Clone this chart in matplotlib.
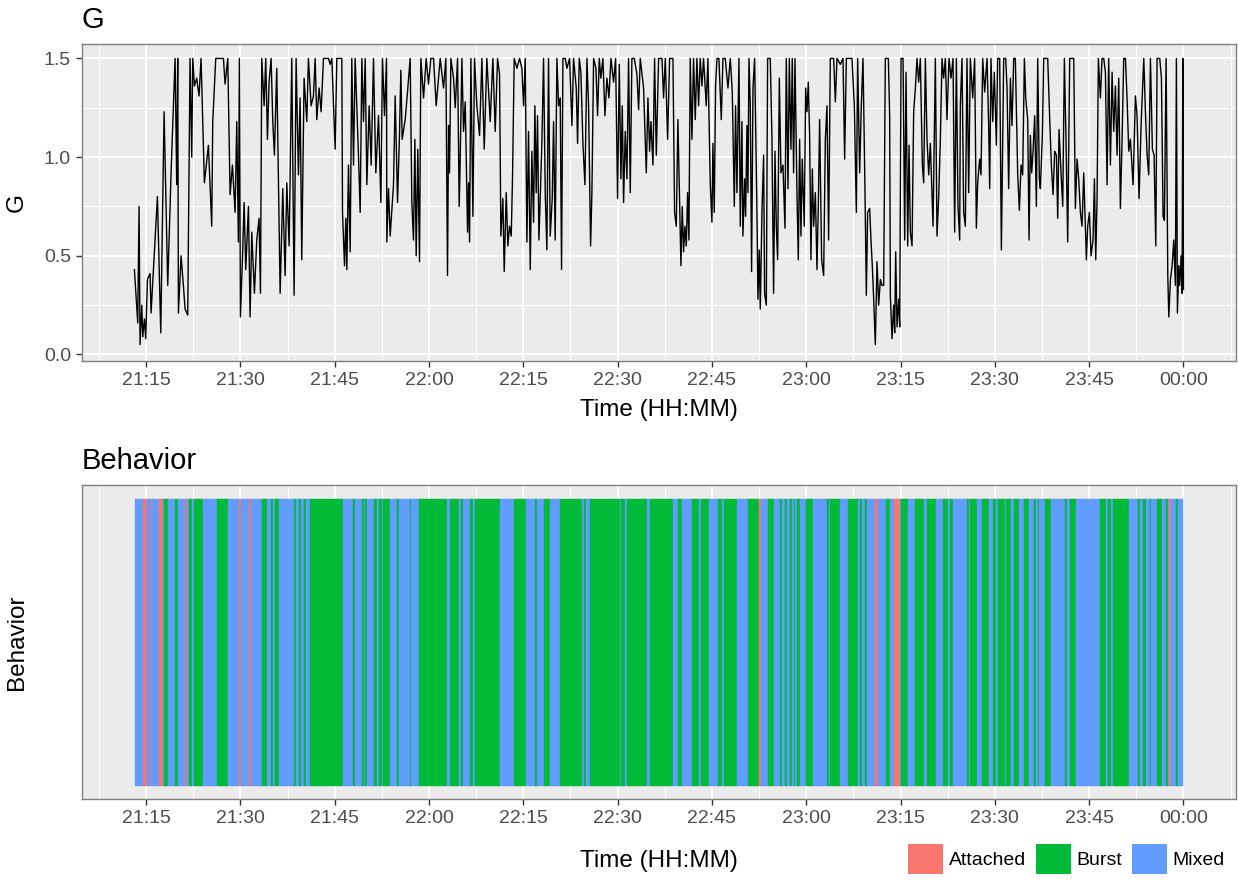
import matplotlib.pyplot as plt
from matplotlib.patches import Patch

plt.rcParams['font.family'] = ['Liberation Sans', 'DejaVu Sans']

# G over time: minutes after 21:00
g_minutes = [
    13.14, 13.67, 13.88, 14.04, 14.31, 14.47, 14.73, 14.94, 15.21, 15.63,
    15.79, 16.80, 17.33, 17.86, 18.44, 18.97, 19.61, 19.87, 20.03, 20.14,
    20.56, 20.93, 21.20, 21.62, 21.99, 22.26, 22.42, 22.68, 23.05, 23.42,
    23.74, 24.27, 24.91, 25.44, 25.60, 26.08, 27.30, 27.56, 27.99, 28.36,
    28.73, 29.15, 29.42, 29.68, 29.84, 30.00, 30.32, 30.59, 30.85, 31.28,
    31.54, 31.81, 32.23, 32.60, 32.97, 33.19, 33.40, 33.77, 34.03, 34.30,
    34.56, 34.88, 35.15, 35.41, 35.78, 36.32, 36.74, 37.11, 37.38, 37.75,
    38.17, 38.54, 38.86, 39.23, 39.50, 39.76, 40.13, 40.56, 40.82, 41.25,
    41.62, 41.89, 42.15, 42.52, 42.84, 43.21, 44.01, 44.27, 44.54, 45.07,
    45.33, 46.13, 46.24, 46.56, 46.77, 46.93, 47.19, 47.46, 47.72, 47.99,
    48.25, 48.78, 49.05, 49.32, 49.58, 49.85, 50.11, 50.48, 50.80, 51.17,
    51.54, 51.97, 52.34, 52.60, 52.92, 53.24, 53.29, 53.56, 53.82, 54.35,
    54.62, 54.99, 55.30, 55.52, 55.73, 56.21, 56.58, 57.00, 57.27, 57.53,
    57.75, 57.96, 58.22, 58.49, 58.70, 59.13, 59.55, 59.92, 60.29, 60.72,
    61.14, 61.78, 62.31, 62.68, 62.94, 63.11, 63.26, 63.48, 63.90, 64.17,
    64.54, 64.80, 64.96, 65.23, 65.49, 65.76, 66.13, 66.29, 66.45, 66.66,
    66.98, 67.24, 67.61, 68.04, 68.41, 68.78, 69.20, 69.73, 70.16, 70.53,
    70.90, 71.22, 71.43, 71.75, 71.96, 72.28, 72.54, 72.81, 73.08, 73.29,
    73.55, 73.98, 74.40, 74.77, 75.04, 75.30, 75.57, 75.83, 76.10, 76.36,
    76.63, 76.84, 77.05, 77.26, 77.48, 77.69, 77.95, 78.22, 78.49, 78.75,
    79.01, 79.28, 79.60, 79.81, 80.07, 80.34, 80.61, 80.87, 81.08, 81.30,
    81.67, 81.93, 82.36, 82.73, 82.99, 83.42, 83.63, 83.90, 84.16, 84.48,
    84.80, 85.12, 85.38, 85.70, 85.91, 86.18, 86.55, 86.81, 87.08, 87.34,
    87.66, 87.98, 88.30, 88.62, 88.94, 89.36, 89.68, 89.99, 90.26, 90.52,
    90.74, 90.95, 91.21, 91.48, 91.74, 92.01, 92.27, 92.65, 93.07, 93.34,
    93.60, 94.13, 94.56, 94.82, 95.09, 95.30, 95.62, 95.88, 96.15, 96.52,
    97.05, 97.31, 97.58, 97.95, 98.27, 98.80, 99.06, 99.33, 99.59, 100.07,
    100.28, 100.49, 100.70, 100.92, 101.13, 101.34, 101.55, 101.82, 102.08, 102.35,
    102.61, 102.88, 103.14, 103.41, 103.67, 104.10, 104.36, 104.74, 105.00, 105.16,
    105.37, 105.58, 105.80, 106.11, 106.49, 106.75, 107.12, 107.55, 107.92, 108.24,
    108.56, 108.76, 108.98, 109.30, 109.51, 109.77, 109.93, 110.20, 110.36, 110.57,
    110.73, 110.89, 111.10, 111.31, 111.53, 111.79, 112.16, 112.32, 112.53, 112.69,
    112.96, 113.22, 113.38, 113.65, 113.86, 114.28, 114.55, 114.81, 115.03, 115.24,
    115.45, 115.72, 115.98, 116.30, 116.62, 116.83, 117.10, 117.31, 117.57, 117.78,
    117.99, 118.21, 118.53, 118.74, 118.95, 119.16, 119.37, 119.69, 119.91, 120.12,
    120.33, 120.54, 120.75, 120.97, 121.18, 121.45, 121.71, 121.92, 122.13, 122.45,
    122.77, 123.04, 123.30, 123.56, 123.83, 124.36, 124.63, 124.89, 125.42, 125.85,
    126.11, 126.38, 126.75, 127.28, 127.65, 127.97, 128.18, 128.50, 128.76, 129.03,
    129.35, 129.56, 129.77, 130.09, 130.30, 130.51, 130.73, 130.99, 131.26, 131.52,
    131.79, 132.05, 132.32, 132.58, 133.06, 133.27, 133.38, 133.64, 133.91, 134.07,
    134.23, 134.44, 134.71, 134.87, 135.08, 135.40, 135.66, 135.87, 136.14, 136.35,
    136.56, 136.83, 137.09, 137.36, 137.62, 137.89, 138.15, 138.47, 138.68, 138.95,
    139.21, 139.48, 139.74, 140.17, 140.54, 140.80, 141.07, 141.33, 141.60, 141.86,
    142.13, 142.39, 142.71, 143.03, 143.35, 143.61, 143.88, 144.14, 144.41, 144.51,
    144.78, 145.04, 145.31, 145.57, 145.84, 146.10, 146.48, 146.79, 147.06, 147.27,
    147.59, 147.80, 148.07, 148.38, 148.76, 149.02, 149.18, 149.39, 149.66, 149.92,
    150.24, 150.45, 150.77, 151.04, 151.25, 151.41, 151.73, 151.94, 152.20, 152.47,
    152.73, 153.00, 153.26, 153.64, 153.90, 154.17, 154.43, 154.70, 154.91, 155.23,
    155.44, 155.65, 155.86, 156.08, 156.34, 156.61, 156.82, 157.08, 157.24, 157.56,
    157.77, 158.41, 158.73, 158.99, 159.26, 159.52, 159.79, 160.00, 160.21, 160.53,
    160.80, 161.06, 161.33, 161.59, 161.91, 162.28, 162.55, 162.81, 163.08, 163.34,
    163.61, 163.87, 164.14, 164.40, 164.56, 164.77, 165.04, 165.30, 165.62, 165.84,
    166.05, 166.26, 166.47, 166.79, 167.05, 167.32, 167.59, 167.85, 168.11, 168.38,
    168.65, 168.91, 169.18, 169.44, 169.71, 169.97, 170.24, 170.50, 170.77, 171.03,
    171.30, 171.56, 171.99, 172.36, 172.62, 172.94, 173.26, 173.69, 173.95, 174.22,
    174.48, 174.75, 175.06, 175.33, 175.60, 175.81, 176.23, 176.50, 176.76, 176.97,
    177.24, 177.51, 177.67, 177.93, 178.20, 178.46, 178.72, 178.88, 179.04, 179.26,
    179.41, 179.63, 179.79, 179.90, 180.00,
]
g_values = [
    0.43, 0.16, 0.75, 0.05, 0.25, 0.09, 0.18, 0.08, 0.38, 0.41,
    0.21, 0.80, 0.11, 1.23, 0.35, 0.92, 1.50, 0.86, 1.50, 0.21,
    0.50, 0.35, 0.23, 0.20, 1.50, 1.00, 1.50, 1.36, 1.40, 1.31,
    1.50, 0.87, 1.06, 0.65, 1.18, 1.50, 1.50, 1.37, 1.50, 0.81,
    0.96, 0.72, 1.18, 0.57, 1.50, 0.19, 0.48, 0.77, 0.43, 0.75,
    0.19, 0.62, 0.31, 0.58, 0.69, 0.31, 1.50, 1.26, 1.50, 1.09,
    1.38, 1.50, 1.18, 1.01, 1.45, 0.31, 0.84, 0.40, 0.87, 0.55,
    1.50, 0.30, 1.50, 0.91, 1.30, 0.48, 1.40, 1.18, 1.50, 1.26,
    1.31, 1.50, 1.19, 1.35, 1.23, 1.50, 1.50, 1.47, 1.50, 1.04,
    1.50, 1.50, 0.72, 0.45, 0.69, 0.43, 0.96, 0.52, 1.50, 0.96,
    1.50, 1.01, 0.72, 1.50, 1.18, 1.50, 0.86, 1.26, 0.96, 1.50,
    0.92, 1.21, 0.77, 1.50, 1.21, 1.50, 0.57, 0.84, 0.60, 0.86,
    1.31, 0.77, 1.11, 1.44, 1.09, 1.19, 1.33, 1.50, 0.77, 0.58,
    1.09, 0.50, 1.04, 0.47, 1.50, 1.30, 1.50, 1.37, 1.50, 1.50,
    1.26, 1.50, 1.35, 1.50, 0.40, 1.16, 0.92, 1.50, 1.40, 1.25,
    1.50, 0.75, 0.99, 1.50, 1.13, 1.28, 0.62, 0.87, 0.57, 1.50,
    0.70, 1.50, 1.26, 1.11, 1.50, 1.04, 1.50, 1.18, 1.50, 1.13,
    1.50, 1.42, 0.60, 0.79, 0.42, 0.82, 0.55, 0.65, 0.60, 0.91,
    1.50, 1.45, 1.50, 1.45, 1.26, 1.50, 0.57, 1.13, 0.43, 1.03,
    0.67, 1.26, 0.82, 1.21, 0.58, 0.79, 1.07, 1.50, 0.81, 0.53,
    1.50, 0.60, 0.79, 1.18, 0.58, 1.50, 1.26, 1.30, 0.43, 1.50,
    1.50, 1.45, 1.50, 1.16, 1.50, 1.35, 1.07, 1.50, 1.43, 1.07,
    0.86, 1.50, 1.26, 0.55, 0.82, 1.50, 1.45, 1.21, 1.50, 1.40,
    1.50, 1.21, 1.40, 1.30, 1.50, 1.38, 1.50, 0.79, 1.47, 0.89,
    1.26, 0.77, 1.13, 0.89, 1.50, 0.82, 1.50, 1.50, 1.42, 1.24,
    1.50, 1.35, 0.92, 1.30, 1.03, 1.18, 0.96, 1.50, 1.01, 1.50,
    1.50, 1.30, 1.50, 1.09, 1.50, 1.50, 0.72, 0.65, 1.19, 0.45,
    0.75, 0.52, 0.65, 0.55, 0.82, 0.58, 1.50, 1.09, 1.50, 1.19,
    1.50, 1.26, 1.50, 1.36, 1.50, 1.26, 1.50, 0.86, 0.67, 1.07,
    0.72, 1.36, 1.50, 1.50, 1.19, 1.50, 1.50, 1.35, 1.50, 1.33,
    0.75, 1.26, 0.82, 1.50, 0.65, 1.18, 0.60, 0.89, 0.70, 1.16,
    0.82, 1.50, 1.26, 0.42, 1.35, 1.50, 0.72, 0.28, 0.53, 0.23,
    0.72, 1.01, 0.31, 0.25, 1.50, 1.50, 1.09, 0.31, 1.03, 0.65,
    0.48, 1.40, 0.92, 0.96, 0.64, 1.50, 0.84, 1.50, 1.04, 1.50,
    0.92, 1.50, 0.81, 0.48, 1.09, 0.60, 0.99, 0.65, 1.35, 1.23,
    1.38, 1.11, 0.48, 0.94, 0.65, 0.82, 0.43, 0.75, 1.19, 0.48,
    0.40, 1.09, 1.26, 0.58, 1.50, 1.50, 1.28, 1.50, 1.47, 1.50,
    0.99, 1.50, 1.50, 1.50, 1.26, 0.72, 1.50, 0.92, 1.26, 1.50,
    0.82, 0.30, 0.72, 0.74, 0.58, 0.45, 0.28, 0.05, 0.47, 0.25,
    0.38, 0.35, 0.35, 1.50, 1.50, 1.21, 0.30, 0.08, 0.25, 0.11,
    0.52, 0.14, 0.28, 0.14, 1.50, 1.50, 0.58, 1.43, 0.55, 1.06,
    0.62, 0.55, 1.23, 1.35, 1.50, 1.38, 1.50, 0.96, 0.87, 1.50,
    1.09, 0.91, 1.07, 0.65, 1.50, 0.60, 0.80, 1.09, 1.50, 1.40,
    1.50, 1.19, 1.50, 1.40, 1.50, 0.62, 1.50, 0.75, 0.58, 1.26,
    1.50, 0.72, 0.65, 1.50, 0.82, 1.50, 1.30, 1.50, 0.64, 0.87,
    0.99, 0.91, 1.50, 1.33, 1.50, 1.16, 0.84, 1.50, 1.18, 1.43,
    1.06, 1.50, 1.50, 0.53, 1.07, 1.50, 1.50, 1.35, 0.84, 1.40,
    1.16, 1.50, 1.50, 0.91, 0.73, 0.96, 0.91, 1.50, 1.30, 1.19,
    0.58, 1.11, 0.92, 1.03, 1.21, 0.75, 1.50, 0.89, 0.84, 1.11,
    1.50, 1.50, 1.19, 0.96, 0.81, 1.03, 1.01, 0.69, 1.14, 0.92,
    0.75, 1.50, 1.07, 0.57, 1.50, 1.50, 1.50, 0.74, 0.99, 0.89,
    0.72, 0.65, 0.92, 0.64, 0.48, 0.65, 0.72, 0.50, 0.58, 0.89,
    0.48, 0.79, 1.50, 1.30, 1.50, 1.50, 1.43, 0.86, 1.50, 0.96,
    1.43, 1.13, 1.36, 1.01, 1.40, 0.74, 1.09, 1.50, 1.50, 1.30,
    1.03, 1.09, 0.86, 1.31, 1.21, 0.79, 1.16, 1.50, 1.23, 1.01,
    0.91, 1.50, 1.04, 1.01, 0.55, 1.50, 1.50, 1.40, 0.70, 0.68,
    1.50, 0.40, 0.19, 0.38, 0.45, 0.58, 0.35, 1.50, 0.21, 0.45,
    0.35, 0.50, 0.31, 1.50, 0.33,
]

# behaviour segments: start minute after 21:00 and class (A/B/M)
beh_start = [
    13.25, 14.47, 15.21, 15.80, 16.01, 17.12, 17.76, 17.92, 18.55, 19.61,
    20.14, 21.05, 21.21, 21.47, 21.68, 21.84, 22.37, 22.64, 24.02, 26.25,
    28.10, 29.80, 30.06, 31.44, 31.71, 33.40, 34.20, 34.84, 35.26, 35.58,
    36.11, 38.60, 38.92, 39.34, 39.66, 40.19, 40.51, 41.09, 46.29, 47.88,
    48.25, 49.31, 49.63, 49.84, 50.16, 51.22, 51.75, 51.97, 52.60, 52.71,
    53.72, 54.88, 55.15, 56.90, 57.11, 58.44, 62.84, 63.26, 64.75, 65.07,
    65.33, 66.44, 66.98, 67.24, 71.32, 73.45, 75.46, 76.89, 77.16, 78.22,
    79.28, 80.87, 84.32, 84.69, 84.96, 85.64, 90.31, 90.52, 91.21, 91.48,
    94.66, 95.19, 98.85, 99.60, 100.23, 101.82, 102.99, 103.25, 104.58, 105.96,
    106.59, 106.86, 108.98, 110.68, 112.43, 112.80, 113.86, 114.81, 115.88, 116.14,
    116.67, 116.99, 117.47, 117.73, 118.00, 118.26, 118.53, 118.95, 119.96, 121.07,
    123.30, 123.56, 123.83, 125.42, 126.59, 128.23, 128.60, 128.87, 129.40, 129.66,
    130.99, 131.36, 132.69, 133.38, 134.01, 134.86, 135.13, 136.14, 137.36, 138.68,
    139.21, 140.70, 141.76, 142.50, 142.82, 143.35, 145.58, 145.84, 146.11, 147.17,
    147.96, 149.13, 149.66, 150.24, 150.51, 151.57, 151.84, 152.63, 153.00, 153.80,
    154.59, 155.50, 156.29, 156.56, 156.82, 157.09, 157.93, 159.00, 161.22, 161.49,
    162.02, 162.92, 166.68, 167.75, 168.01, 168.54, 168.80, 171.40, 172.78, 173.04,
    173.58, 174.11, 174.64, 174.90, 175.80, 176.60, 177.23, 177.50, 177.66, 178.03,
    178.83, 179.10,
]
beh_codes = list(
    "MAMAMAMBMB" "MAMAMBMBMB" "MAMAMBMBMB" "MBMBMBMBMB" "MBMBMBMBMB"
    "MBMBMBMBMB" "MBMBMBMBMB" "MBMBMBMBMB" "MBMBMBMBMB" "MBMBAMBMBM"
    "BMBMBMBMBM" "BMBMBMBMBM" "AMBMAMBMBM" "BMBMBMBMBM" "BMBMBMBMBM"
    "BMBMBMBMBM" "BMBMBMBMBM" "BMBMBMBMAM" "BM"
)
beh_end = 180.0

behaviors = ['Attached', 'Burst', 'Mixed']
beh_colors = ['#F8766D', '#00BA38', '#619CFF']
code_names = {'A': 'Attached', 'B': 'Burst', 'M': 'Mixed'}

tick_minutes = [15, 30, 45, 60, 75, 90, 105, 120, 135, 150, 165, 180]
tick_labels = ['21:15', '21:30', '21:45', '22:00', '22:15', '22:30',
               '22:45', '23:00', '23:15', '23:30', '23:45', '00:00']
g_ticks = [0.0, 0.5, 1.0, 1.5]

assert len(g_minutes) == len(g_values)
assert len(beh_start) == len(beh_codes)

# ggplot-ish 5% expansion of the data range
xmin, xmax = min(g_minutes), max(g_minutes)
pad = 0.05 * (xmax - xmin)
xlim = (xmin - pad, xmax + pad)
minor_x = [t - 7.5 for t in tick_minutes] + [tick_minutes[-1] + 7.5]


def style(ax):
    ax.set_facecolor('#EBEBEB')
    for s in ax.spines.values():
        s.set_color('#7F7F7F')
        s.set_linewidth(1.0)
    ax.set_xlim(*xlim)
    ax.set_xticks(tick_minutes)
    ax.set_xticklabels(tick_labels)
    ax.set_xticks(minor_x, minor=True)
    ax.grid(which='major', color='white', linewidth=1.5)
    ax.grid(which='minor', color='white', linewidth=0.75)
    ax.set_axisbelow(True)
    ax.tick_params(which='major', length=4.4, width=1.0, color='#333333',
                   labelsize=14, labelcolor='#4D4D4D', pad=3.5)
    ax.tick_params(which='minor', length=0)


fig = plt.figure(figsize=(12.38, 8.82), dpi=100)
ax1 = fig.add_axes([0.0662, 0.5907, 0.9321, 0.3594])
ax2 = fig.add_axes([0.0662, 0.0941, 0.9321, 0.3560])

# top: G
style(ax1)
ax1.plot(g_minutes, g_values, color='black', linewidth=1.0)
ax1.set_ylim(-0.033, 1.573)
ax1.set_yticks(g_ticks)
ax1.set_yticklabels(['%.1f' % v for v in g_ticks])
ax1.set_yticks([0.25, 0.75, 1.25], minor=True)
ax1.set_title('G', loc='left', fontsize=21, pad=11.5)
ax1.set_ylabel('G', fontsize=17.5)
ax1.yaxis.set_label_coords(-0.047, 0.5)
ax1.set_xlabel('Time (HH:MM)', fontsize=17.5)
ax1.xaxis.set_label_coords(0.5, -0.12)

# bottom: behaviour strip
style(ax2)
ends = beh_start[1:] + [beh_end]
widths = [e - s for s, e in zip(beh_start, ends)]
colors = [beh_colors[behaviors.index(code_names[c])] for c in beh_codes]
ax2.bar(beh_start, [1.0] * len(beh_start), width=widths, align='edge',
        color=colors, edgecolor=colors, linewidth=0.3)
ax2.set_ylim(-0.045, 1.05)
ax2.set_yticks([])
ax2.set_title('Behavior', loc='left', fontsize=21, pad=11.5)
ax2.set_ylabel('Behavior', fontsize=17.5)
ax2.yaxis.set_label_coords(-0.047, 0.5)
ax2.set_xlabel('Time (HH:MM)', fontsize=17.5)
ax2.xaxis.set_label_coords(0.5, -0.162)

handles = [Patch(facecolor=c, edgecolor='none') for c in beh_colors]
fig.legend(handles, behaviors, loc='center right',
           bbox_to_anchor=(0.9895, 0.026), ncol=3, frameon=False,
           fontsize=14, handlelength=1.8, handleheight=2.0,
           handletextpad=0.3, columnspacing=0.5, borderpad=0,
           borderaxespad=0)

fig.savefig('out.png', dpi=100)
